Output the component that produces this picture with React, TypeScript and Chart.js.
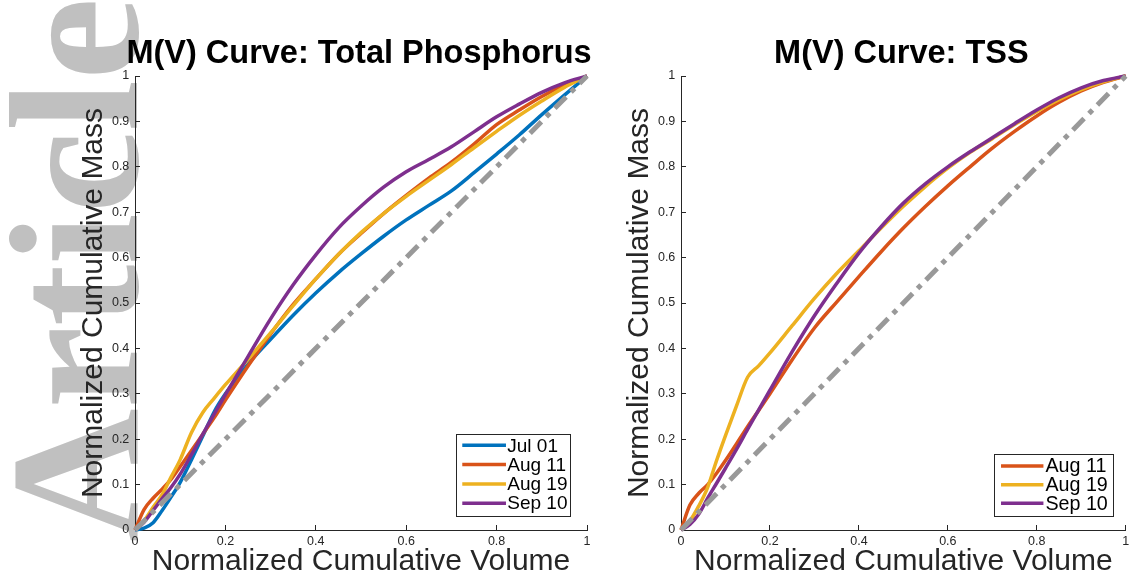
import React, { useEffect, useRef } from "react";
import { Chart, registerables } from "chart.js";

Chart.register(...registerables);

// ---------- data ----------
const volume = [0, 0.02, 0.04, 0.06, 0.08, 0.1, 0.125, 0.15, 0.175, 0.2, 0.25, 0.3, 0.35, 0.4, 0.45, 0.5, 0.55, 0.6, 0.65, 0.7, 0.75, 0.8, 0.85, 0.9, 0.95, 1];

// Total Phosphorus
const tpJul01 = [0, 0.004, 0.016, 0.043, 0.073, 0.105, 0.155, 0.207, 0.26, 0.3, 0.365, 0.42, 0.473, 0.522, 0.567, 0.608, 0.647, 0.683, 0.715, 0.747, 0.787, 0.828, 0.87, 0.915, 0.958, 1];
const tpAug11 = [0, 0.045, 0.07, 0.09, 0.112, 0.14, 0.175, 0.211, 0.247, 0.286, 0.361, 0.432, 0.497, 0.553, 0.607, 0.653, 0.697, 0.737, 0.775, 0.81, 0.85, 0.893, 0.925, 0.955, 0.98, 1];
const tpAug19 = [0, 0.02, 0.05, 0.078, 0.117, 0.155, 0.215, 0.259, 0.29, 0.32, 0.376, 0.434, 0.494, 0.553, 0.607, 0.655, 0.697, 0.735, 0.77, 0.805, 0.842, 0.878, 0.913, 0.945, 0.975, 1];
const tpSep10 = [0, 0.017, 0.043, 0.069, 0.094, 0.123, 0.166, 0.211, 0.255, 0.298, 0.382, 0.465, 0.54, 0.606, 0.665, 0.713, 0.755, 0.789, 0.816, 0.844, 0.877, 0.91, 0.938, 0.964, 0.985, 1];

// TSS
const tssAug11 = [0, 0.055, 0.081, 0.1, 0.125, 0.153, 0.19, 0.228, 0.264, 0.3, 0.375, 0.445, 0.502, 0.558, 0.613, 0.665, 0.713, 0.758, 0.8, 0.841, 0.878, 0.912, 0.942, 0.967, 0.986, 1];
const tssAug19 = [0, 0.02, 0.053, 0.094, 0.153, 0.208, 0.274, 0.337, 0.362, 0.39, 0.45, 0.51, 0.565, 0.615, 0.665, 0.713, 0.757, 0.797, 0.832, 0.862, 0.893, 0.922, 0.948, 0.97, 0.987, 1];
const tssSep10 = [0, 0.012, 0.035, 0.07, 0.103, 0.136, 0.178, 0.222, 0.265, 0.308, 0.393, 0.472, 0.543, 0.61, 0.668, 0.72, 0.763, 0.8, 0.833, 0.864, 0.895, 0.925, 0.952, 0.974, 0.99, 1];

// 1:1 reference line
const diagVolume = [0, 1];
const diagMass = [0, 1];

const xTickValues = [0, 0.2, 0.4, 0.6, 0.8, 1];
const xTickLabels = ["0", "0.2", "0.4", "0.6", "0.8", "1"];
const yTickValues = [0, 0.1, 0.2, 0.3, 0.4, 0.5, 0.6, 0.7, 0.8, 0.9, 1];
const yTickLabels = ["0", "0.1", "0.2", "0.3", "0.4", "0.5", "0.6", "0.7", "0.8", "0.9", "1"];

const COLORS = {
  jul01: "#0072BD",
  aug11: "#D95319",
  aug19: "#EDB120",
  sep10: "#7E2F8E",
  diag: "#999999",
};

const FAMILY = '"Liberation Sans", Arial, Helvetica, sans-serif';
const SERIF = '"Liberation Serif", "DejaVu Serif", "Times New Roman", serif';
const AXIS = "#262626";

// ---------- title plugin (centred over the plot area, not squeezed) ----------
const centerTitle = {
  id: "centerTitle",
  afterDraw(chart: any, _args: any, opts: any) {
    const { ctx, chartArea } = chart;
    ctx.save();
    ctx.font = `bold ${opts.size}px ${FAMILY}`;
    ctx.fillStyle = "#000000";
    ctx.textAlign = "center";
    ctx.textBaseline = "alphabetic";
    ctx.fillText(opts.text, (chartArea.left + chartArea.right) / 2 + opts.dx, opts.baseline);
    ctx.restore();
  },
};

// ---------- legend plugin (boxed, inside plot, bottom-right) ----------
const boxLegend = {
  id: "boxLegend",
  afterDraw(chart: any, _args: any, opts: any) {
    const { ctx, chartArea } = chart;
    const items = chart.data.datasets.filter((d: any) => d.inLegend);
    ctx.save();
    ctx.font = `${opts.fontSize}px ${FAMILY}`;
    const textW = Math.max(...items.map((d: any) => ctx.measureText(d.label).width));
    const w = opts.padLeft + opts.lineLen + opts.gap + textW + opts.padRight;
    const h = items.length * opts.rowH + opts.extra;
    const x = chartArea.right - opts.right - w;
    const y = chartArea.bottom - opts.bottom - h;
    ctx.fillStyle = "#ffffff";
    ctx.fillRect(x, y, w, h);
    ctx.strokeStyle = AXIS;
    ctx.lineWidth = 1;
    ctx.strokeRect(Math.round(x) + 0.5, Math.round(y) + 0.5, Math.round(w), Math.round(h));
    items.forEach((d: any, i: number) => {
      const cy = y + opts.padTop + i * opts.rowH;
      ctx.beginPath();
      ctx.strokeStyle = d.borderColor;
      ctx.lineWidth = 3.5;
      ctx.moveTo(x + opts.padLeft, cy);
      ctx.lineTo(x + opts.padLeft + opts.lineLen, cy);
      ctx.stroke();
      ctx.fillStyle = "#000000";
      ctx.textBaseline = "middle";
      ctx.textAlign = "left";
      ctx.fillText(d.label, x + opts.padLeft + opts.lineLen + opts.gap, cy + 1);
    });
    ctx.restore();
  },
};

type Series = { label: string; color: string; values: number[] };

function makeConfig(p: {
  title: string;
  series: Series[];
  yWidth: number;
  padRight: number;
  yTitlePad: number;
  legend: any;
}): any {
  const datasets: any[] = p.series.map((s, i) => ({
    label: s.label,
    data: volume.map((v, j) => ({ x: v, y: s.values[j] })),
    borderColor: s.color,
    backgroundColor: s.color,
    borderWidth: 3.5,
    pointRadius: 0,
    cubicInterpolationMode: "monotone",
    fill: false,
    clip: false,
    order: p.series.length - i,
    inLegend: true,
  }));
  datasets.push({
    label: "1:1",
    data: diagVolume.map((v, j) => ({ x: v, y: diagMass[j] })),
    borderColor: COLORS.diag,
    borderWidth: 5,
    borderDash: [16, 7, 5, 7],
    borderCapStyle: "butt",
    pointRadius: 0,
    fill: false,
    clip: false,
    order: 0,
    inLegend: false,
  });

  return {
    type: "line",
    data: { datasets },
    plugins: [boxLegend, centerTitle],
    options: {
      responsive: false,
      animation: false,
      events: [],
      layout: { padding: { left: 0, right: p.padRight, top: 76, bottom: 0 } },
      plugins: {
        legend: { display: false },
        tooltip: { enabled: false },
        title: { display: false },
        centerTitle: { text: p.title, size: 32.5, baseline: 63.3, dx: -2 },
        boxLegend: p.legend,
      },
      scales: {
        x: {
          type: "linear",
          min: 0,
          max: 1,
          afterBuildTicks: (scale: any) => {
            scale.ticks = xTickValues.map((v) => ({ value: v }));
          },
          afterFit: (scale: any) => {
            scale.height = 50;
          },
          ticks: {
            autoSkip: false,
            maxRotation: 0,
            padding: 8.8,
            color: AXIS,
            font: { family: FAMILY, size: 12.5 },
            callback: (_v: any, i: number) => xTickLabels[i],
          },
          grid: { drawOnChartArea: false, drawTicks: true, tickLength: -5, color: AXIS, lineWidth: 1 },
          border: { display: true, color: AXIS, width: 1 },
          title: {
            display: true,
            text: "Normalized Cumulative Volume",
            color: AXIS,
            font: { family: FAMILY, size: 30, lineHeight: 1.2 },
            padding: { top: 0, bottom: 0 },
          },
        },
        y: {
          type: "linear",
          min: 0,
          max: 1,
          afterBuildTicks: (scale: any) => {
            scale.ticks = yTickValues.map((v) => ({ value: v }));
          },
          afterFit: (scale: any) => {
            scale.width = p.yWidth;
          },
          ticks: {
            autoSkip: false,
            padding: 10.7,
            color: AXIS,
            font: { family: FAMILY, size: 12.5 },
            callback: (_v: any, i: number) => yTickLabels[i],
          },
          grid: { drawOnChartArea: false, drawTicks: true, tickLength: -5, color: AXIS, lineWidth: 1 },
          border: { display: true, color: AXIS, width: 1 },
          title: {
            display: true,
            text: "Normalized Cumulative Mass",
            color: AXIS,
            font: { family: FAMILY, size: 30, lineHeight: 1.2 },
            padding: { top: p.yTitlePad, bottom: 0 },
          },
        },
      },
    },
  };
}

export default function App() {
  const leftRef = useRef<HTMLCanvasElement>(null);
  const rightRef = useRef<HTMLCanvasElement>(null);

  useEffect(() => {
    const left = new Chart(
      leftRef.current as HTMLCanvasElement,
      makeConfig({
        title: "M(V) Curve: Total Phosphorus",
        series: [
          { label: "Jul 01", color: COLORS.jul01, values: tpJul01 },
          { label: "Aug 11", color: COLORS.aug11, values: tpAug11 },
          { label: "Aug 19", color: COLORS.aug19, values: tpAug19 },
          { label: "Sep 10", color: COLORS.sep10, values: tpSep10 },
        ],
        yWidth: 135,
        padRight: 13,
        yTitlePad: 75.6,
        legend: { fontSize: 19, right: 17.7, bottom: 13.3, padLeft: 6.6, lineLen: 43.7, gap: 1.3, padRight: 1.8, rowH: 19.3, padTop: 11, extra: 5.2 },
      })
    );
    const right = new Chart(
      rightRef.current as HTMLCanvasElement,
      makeConfig({
        title: "M(V) Curve: TSS",
        series: [
          { label: "Aug 11", color: COLORS.aug11, values: tssAug11 },
          { label: "Aug 19", color: COLORS.aug19, values: tssAug19 },
          { label: "Sep 10", color: COLORS.sep10, values: tssSep10 },
        ],
        yWidth: 81,
        padRight: 5,
        yTitlePad: 21.6,
        legend: { fontSize: 19.7, right: 12.3, bottom: 13.3, padLeft: 7, lineLen: 42.4, gap: 2, padRight: 5.6, rowH: 18.65, padTop: 11.7, extra: 6.45 },
      })
    );
    return () => {
      left.destroy();
      right.destroy();
    };
  }, []);

  return (
    <div
      style={{
        position: "fixed",
        left: 0,
        top: 0,
        width: 1138,
        height: 580,
        background: "#ffffff",
        overflow: "hidden",
      }}
    >
      <div
        style={{
          position: "absolute",
          left: -18,
          top: 542,
          transformOrigin: "0 0",
          transform: "rotate(-90deg)",
          fontFamily: SERIF,
          fontWeight: "bold",
          fontSize: "185px",
          lineHeight: "185px",
          color: "#c0c0c0",
          whiteSpace: "nowrap",
        }}
      >
        Article
      </div>
      <canvas ref={leftRef} width={600} height={580} style={{ position: "absolute", left: 0, top: 0 }} />
      <canvas ref={rightRef} width={538} height={580} style={{ position: "absolute", left: 600, top: 0 }} />
    </div>
  );
}
